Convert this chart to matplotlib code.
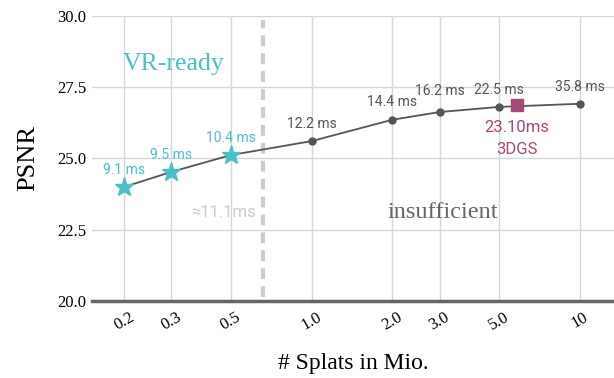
import matplotlib
matplotlib.use("Agg")
import matplotlib.pyplot as plt
from matplotlib.ticker import FixedLocator, NullLocator

# Data
splats = [0.2, 0.3, 0.5, 1.0, 2.0, 3.0, 5.0, 10]
psnr = [24.0, 24.53, 25.12, 25.61, 26.36, 26.63, 26.81, 26.92]
frame_times = ["9.1 ms", "9.5 ms", "10.4 ms", "12.2 ms", "14.4 ms",
               "16.2 ms", "22.5 ms", "35.8 ms"]
n_vr_ready = 3  # first three hit the VR budget
gs_splats, gs_psnr, gs_time = 5.83, 26.88, "23.10ms"
vr_limit = 0.658  # ~11.1 ms
xtick_vals = [0.2, 0.3, 0.5, 1.0, 2.0, 3.0, 5.0, 10]
xtick_labels = ["0.2", "0.3", "0.5", "1.0", "2.0", "3.0", "5.0", "10"]
ytick_vals = [20.0, 22.5, 25.0, 27.5, 30.0]

# Config
teal = "#4cbec7"
plum = "#a84878"
dark = "#555555"
serif = "Liberation Serif"
sans = "Roboto"

fig = plt.figure(figsize=(6.14, 3.78), dpi=100)
ax = fig.add_axes([0.150, 0.2037, 0.850, 0.754])
ax.set_xscale("log")
ax.set_xlim(0.152, 13.4)
ax.set_ylim(20, 30)

ax.xaxis.set_major_locator(FixedLocator(xtick_vals))
ax.xaxis.set_minor_locator(NullLocator())
ax.set_xticks(xtick_vals, xtick_labels)
ax.set_yticks(ytick_vals, [f"{v:.1f}" for v in ytick_vals])
ax.tick_params(length=0, pad=6)
for lab in ax.get_xticklabels():
    lab.set_fontfamily(serif)
    lab.set_fontsize(12)
    lab.set_rotation(30)
    lab.set_ha("center")
for lab in ax.get_yticklabels():
    lab.set_fontfamily(serif)
    lab.set_fontsize(12)
ax.tick_params(axis="y", pad=4)

ax.grid(True, color="#d6d6d6", linewidth=1.0)
ax.set_axisbelow(True)
for s in ["left", "right", "top"]:
    ax.spines[s].set_visible(False)
ax.spines["bottom"].set_color("#666666")
ax.spines["bottom"].set_linewidth(2.5)

# budget line
ax.plot([vr_limit, vr_limit], [20.15, 29.85], color="#cccccc", linewidth=3,
        dashes=(2.6, 1.7), zorder=1)

# main curve
ax.plot(splats, psnr, color=dark, linewidth=1.3, zorder=2)
ax.plot(splats[:n_vr_ready], psnr[:n_vr_ready], linestyle="none", marker="*",
        markersize=14, color=teal, zorder=3)
ax.plot(splats[n_vr_ready:], psnr[n_vr_ready:], linestyle="none", marker="o",
        markersize=5, color=dark, zorder=3)
ax.plot([gs_splats], [gs_psnr], linestyle="none", marker="s", markersize=8,
        color=plum, zorder=4)

label_offsets = [12, 12, 12, 12, 13, 15, 12, 12]
for i, (x, y, t) in enumerate(zip(splats, psnr, frame_times)):
    ax.annotate(t, (x, y), xytext=(0, label_offsets[i]),
                textcoords="offset points", ha="center", va="center",
                fontsize=10, family=sans,
                color=teal if i < n_vr_ready else dark)

ax.annotate(gs_time, (gs_splats, gs_psnr), xytext=(0, -16),
            textcoords="offset points", ha="center", va="center",
            fontsize=12, family=sans, color=plum)
ax.annotate("3DGS", (gs_splats, gs_psnr), xytext=(0, -32),
            textcoords="offset points", ha="center", va="center",
            fontsize=12, family=sans, color=plum)

ax.text(0.305, 28.3, "VR-ready", ha="center", va="center", fontsize=18.5,
        family=serif, color=teal)
ax.text(0.47, 23.1, "\u224811.1ms", ha="center", va="center",
        fontsize=12, family=sans, color="#cccccc")
ax.text(3.08, 23.1, "insufficient", ha="center", va="center", fontsize=17.5,
        family=serif, color="#666666")

ax.set_ylabel("PSNR", fontsize=19, family=serif, labelpad=13)
ax.set_xlabel("# Splats in Mio.", fontsize=17, family=serif, labelpad=14)

fig.savefig("out.png", dpi=100)
